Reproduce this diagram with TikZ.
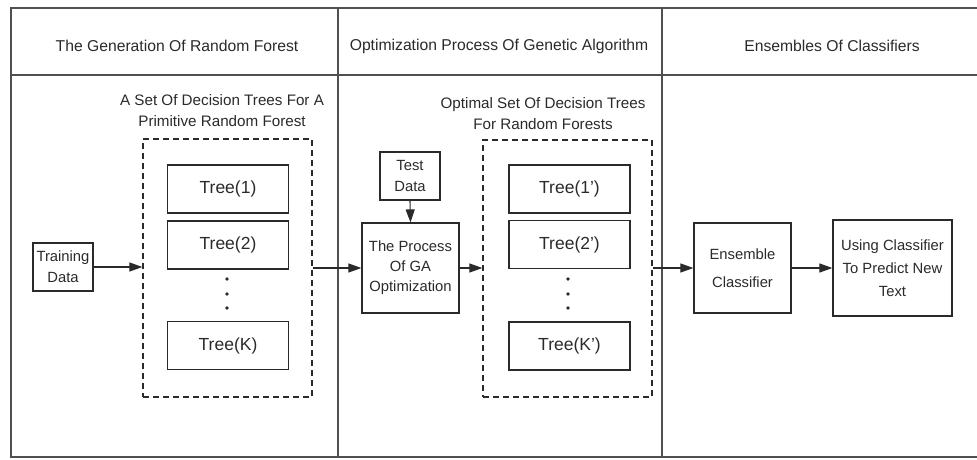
\documentclass[tikz,border=0pt]{standalone}
\usepackage{fontspec}
\setmainfont{Liberation Sans}
\usetikzlibrary{arrows.meta}
\definecolor{ink}{HTML}{2A2A2A}
\definecolor{frame}{HTML}{505050}
\begin{document}
\begin{tikzpicture}[x=1pt,y=-1pt,
  every node/.style={text=ink},
  hdr/.style={font=\fontsize{15.7}{18}\selectfont, anchor=center},
  lbl/.style={font=\fontsize{15.2}{21}\selectfont, align=center},
  box/.style={draw=ink, line width=1.2pt, inner sep=0pt, font=\fontsize{14.8}{21}\selectfont, align=center},
  treebox/.style={draw=ink, line width=1.2pt, inner sep=0pt, minimum width=121pt, minimum height=48pt, font=\fontsize{17.5}{20}\selectfont},
  dbox/.style={draw=ink, line width=1.2pt, dash pattern=on 6pt off 4pt, inner sep=0pt},
  arr/.style={draw=ink, line width=1.1pt, -{Triangle[length=13pt,width=9pt]}},
  dotmark/.style={circle, fill=ink, inner sep=0pt, minimum size=3.8pt}
]
\useasboundingbox (0,0) rectangle (977,459);
% frame
\draw[frame, line width=1.6pt] (977,8) -- (11,8) -- (11,457) -- (977,457);
\draw[frame, line width=1.4pt] (11,75) -- (977,75);
\draw[frame, line width=1.4pt] (338,8) -- (338,457);
\draw[frame, line width=1.4pt] (662,8) -- (662,457);
% headers
\node[hdr] (h1) at (177,46) {The Generation Of Random Forest};
\node[hdr] (h2) at (499,46) {Optimization Process Of Genetic Algorithm};
\node[hdr] (h3) at (832,46) {Ensembles Of Classifiers};
% labels
\node[lbl] (l1) at (222,111) {A Set Of Decision Trees For A\\Primitive Random Forest};
\node[lbl] (l2) at (543,114) {Optimal Set Of Decision Trees\\For Random Forests};
% dashed boxes
\node[dbox, minimum width=169pt, minimum height=258pt] (d1) at (227.5,268) {};
\node[dbox, minimum width=169pt, minimum height=257pt] (d2) at (567.5,268.5) {};
% trees left
\node[treebox] (t1) at (228,189) {Tree(1)};
\node[treebox] (t2) at (228,245) {Tree(2)};
\node[treebox] (tk) at (228,345.5) {Tree(K)};
\node[dotmark] (a1) at (227,279) {};
\node[dotmark] (a2) at (227,294) {};
\node[dotmark] (a3) at (227,308) {};
% trees right
\node[treebox] (s1) at (569.5,189) {Tree(1’)};
\node[treebox] (s2) at (569.5,244.5) {Tree(2’)};
\node[treebox] (sk) at (569.5,346) {Tree(K’)};
\node[dotmark] (b1) at (568,279) {};
\node[dotmark] (b2) at (568,294) {};
\node[dotmark] (b3) at (568,308) {};
% boxes
\node[box, minimum width=60pt, minimum height=48pt] (train) at (63,267) {Training\\Data};
\node[box, minimum width=60pt, minimum height=48pt] (test) at (410,176) {Test\\Data};
\node[box, minimum width=97pt, minimum height=90pt, font=\fontsize{14.8}{20}\selectfont] (ga) at (410.5,268) {The Process\\Of GA\\Optimization};
\node[box, minimum width=97pt, minimum height=90pt, font=\fontsize{14.8}{28}\selectfont] (ens) at (742.5,268) {Ensemble\\Classifier};
\node[box, minimum width=119pt, minimum height=96pt, font=\fontsize{14.8}{23}\selectfont] (use) at (892.5,268) {Using Classifier\\To Predict New\\Text};
% arrows
\draw[arr] (train.east) -- (d1.west |- train.east);
\draw[arr] (d1.east |- ga.west) -- (ga.west);
\draw[arr] (test.south) -- (ga.north);
\draw[arr] (ga.east) -- (d2.west |- ga.east);
\draw[arr] (d2.east |- ens.west) -- (ens.west);
\draw[arr] (ens.east) -- (use.west);
\end{tikzpicture}
\end{document}
